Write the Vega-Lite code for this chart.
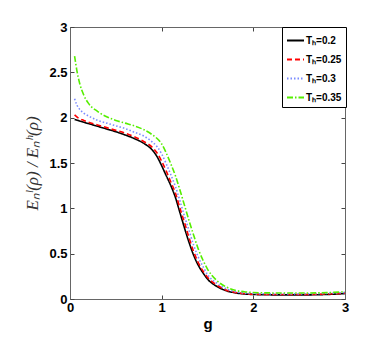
{
  "$schema": "https://vega.github.io/schema/vega-lite/v6.json",
  "width": 275,
  "height": 272,
  "autosize": "none",
  "padding": {"left": 70, "top": 27, "right": 37, "bottom": 38},
  "background": "white",
  "config": {
    "view": {"stroke": "#666", "strokeWidth": 1},
    "axis": {
      "labelFont": "Liberation Sans",
      "labelFontWeight": "bold",
      "labelFontSize": 13,
      "labelColor": "black",
      "tickColor": "#444",
      "domainColor": "#666",
      "grid": false
    },
    "legend": {
      "orient": "none", "legendX": 212, "legendY": 0, "title": null,
      "symbolType": "stroke", "symbolStrokeWidth": 2,
      "labelFont": "Liberation Sans", "labelFontWeight": "bold", "labelFontSize": 10, "labelColor": "black",
      "labelAlign": "left", "labelOffset": 1, "rowPadding": 4, "padding": 4,
      "strokeColor": "#000", "fillColor": "white"
    }
  },
  "data": {
    "values": [
      {"s": "Tₕ=0.2", "g": 0.05, "v": 1.98},
      {"s": "Tₕ=0.2", "g": 0.1, "v": 1.965},
      {"s": "Tₕ=0.2", "g": 0.15, "v": 1.95},
      {"s": "Tₕ=0.2", "g": 0.2, "v": 1.935},
      {"s": "Tₕ=0.2", "g": 0.3, "v": 1.905},
      {"s": "Tₕ=0.2", "g": 0.4, "v": 1.875},
      {"s": "Tₕ=0.2", "g": 0.5, "v": 1.845},
      {"s": "Tₕ=0.2", "g": 0.6, "v": 1.81},
      {"s": "Tₕ=0.2", "g": 0.7, "v": 1.77},
      {"s": "Tₕ=0.2", "g": 0.8, "v": 1.72},
      {"s": "Tₕ=0.2", "g": 0.9, "v": 1.64},
      {"s": "Tₕ=0.2", "g": 0.95, "v": 1.57},
      {"s": "Tₕ=0.2", "g": 1.0, "v": 1.47},
      {"s": "Tₕ=0.2", "g": 1.05, "v": 1.36},
      {"s": "Tₕ=0.2", "g": 1.1, "v": 1.25},
      {"s": "Tₕ=0.2", "g": 1.15, "v": 1.12},
      {"s": "Tₕ=0.2", "g": 1.2, "v": 0.95},
      {"s": "Tₕ=0.2", "g": 1.25, "v": 0.78},
      {"s": "Tₕ=0.2", "g": 1.3, "v": 0.62},
      {"s": "Tₕ=0.2", "g": 1.35, "v": 0.48},
      {"s": "Tₕ=0.2", "g": 1.4, "v": 0.37},
      {"s": "Tₕ=0.2", "g": 1.45, "v": 0.29},
      {"s": "Tₕ=0.2", "g": 1.5, "v": 0.22},
      {"s": "Tₕ=0.2", "g": 1.6, "v": 0.14},
      {"s": "Tₕ=0.2", "g": 1.7, "v": 0.093},
      {"s": "Tₕ=0.2", "g": 1.8, "v": 0.068},
      {"s": "Tₕ=0.2", "g": 1.9, "v": 0.056},
      {"s": "Tₕ=0.2", "g": 2.0, "v": 0.05},
      {"s": "Tₕ=0.2", "g": 2.2, "v": 0.046},
      {"s": "Tₕ=0.2", "g": 2.5, "v": 0.045},
      {"s": "Tₕ=0.2", "g": 2.8, "v": 0.05},
      {"s": "Tₕ=0.2", "g": 3.0, "v": 0.06},

      {"s": "Tₕ=0.25", "g": 0.05, "v": 2.03},
      {"s": "Tₕ=0.25", "g": 0.1, "v": 1.99},
      {"s": "Tₕ=0.25", "g": 0.15, "v": 1.97},
      {"s": "Tₕ=0.25", "g": 0.2, "v": 1.95},
      {"s": "Tₕ=0.25", "g": 0.3, "v": 1.92},
      {"s": "Tₕ=0.25", "g": 0.4, "v": 1.89},
      {"s": "Tₕ=0.25", "g": 0.5, "v": 1.86},
      {"s": "Tₕ=0.25", "g": 0.6, "v": 1.83},
      {"s": "Tₕ=0.25", "g": 0.7, "v": 1.79},
      {"s": "Tₕ=0.25", "g": 0.8, "v": 1.74},
      {"s": "Tₕ=0.25", "g": 0.9, "v": 1.67},
      {"s": "Tₕ=0.25", "g": 0.95, "v": 1.61},
      {"s": "Tₕ=0.25", "g": 1.0, "v": 1.52},
      {"s": "Tₕ=0.25", "g": 1.05, "v": 1.41},
      {"s": "Tₕ=0.25", "g": 1.1, "v": 1.29},
      {"s": "Tₕ=0.25", "g": 1.15, "v": 1.17},
      {"s": "Tₕ=0.25", "g": 1.2, "v": 1.0},
      {"s": "Tₕ=0.25", "g": 1.25, "v": 0.84},
      {"s": "Tₕ=0.25", "g": 1.3, "v": 0.67},
      {"s": "Tₕ=0.25", "g": 1.35, "v": 0.52},
      {"s": "Tₕ=0.25", "g": 1.4, "v": 0.4},
      {"s": "Tₕ=0.25", "g": 1.45, "v": 0.31},
      {"s": "Tₕ=0.25", "g": 1.5, "v": 0.24},
      {"s": "Tₕ=0.25", "g": 1.6, "v": 0.155},
      {"s": "Tₕ=0.25", "g": 1.7, "v": 0.1},
      {"s": "Tₕ=0.25", "g": 1.8, "v": 0.073},
      {"s": "Tₕ=0.25", "g": 1.9, "v": 0.06},
      {"s": "Tₕ=0.25", "g": 2.0, "v": 0.053},
      {"s": "Tₕ=0.25", "g": 2.2, "v": 0.05},
      {"s": "Tₕ=0.25", "g": 2.5, "v": 0.05},
      {"s": "Tₕ=0.25", "g": 2.8, "v": 0.055},
      {"s": "Tₕ=0.25", "g": 3.0, "v": 0.065},

      {"s": "Tₕ=0.3", "g": 0.05, "v": 2.21},
      {"s": "Tₕ=0.3", "g": 0.075, "v": 2.14},
      {"s": "Tₕ=0.3", "g": 0.1, "v": 2.1},
      {"s": "Tₕ=0.3", "g": 0.15, "v": 2.05},
      {"s": "Tₕ=0.3", "g": 0.2, "v": 2.02},
      {"s": "Tₕ=0.3", "g": 0.3, "v": 1.97},
      {"s": "Tₕ=0.3", "g": 0.4, "v": 1.94},
      {"s": "Tₕ=0.3", "g": 0.5, "v": 1.91},
      {"s": "Tₕ=0.3", "g": 0.6, "v": 1.88},
      {"s": "Tₕ=0.3", "g": 0.7, "v": 1.84},
      {"s": "Tₕ=0.3", "g": 0.8, "v": 1.8},
      {"s": "Tₕ=0.3", "g": 0.9, "v": 1.73},
      {"s": "Tₕ=0.3", "g": 0.95, "v": 1.68},
      {"s": "Tₕ=0.3", "g": 1.0, "v": 1.6},
      {"s": "Tₕ=0.3", "g": 1.05, "v": 1.49},
      {"s": "Tₕ=0.3", "g": 1.1, "v": 1.37},
      {"s": "Tₕ=0.3", "g": 1.15, "v": 1.24},
      {"s": "Tₕ=0.3", "g": 1.2, "v": 1.08},
      {"s": "Tₕ=0.3", "g": 1.25, "v": 0.91},
      {"s": "Tₕ=0.3", "g": 1.3, "v": 0.75},
      {"s": "Tₕ=0.3", "g": 1.35, "v": 0.59},
      {"s": "Tₕ=0.3", "g": 1.4, "v": 0.46},
      {"s": "Tₕ=0.3", "g": 1.45, "v": 0.36},
      {"s": "Tₕ=0.3", "g": 1.5, "v": 0.27},
      {"s": "Tₕ=0.3", "g": 1.6, "v": 0.175},
      {"s": "Tₕ=0.3", "g": 1.7, "v": 0.115},
      {"s": "Tₕ=0.3", "g": 1.8, "v": 0.082},
      {"s": "Tₕ=0.3", "g": 1.9, "v": 0.066},
      {"s": "Tₕ=0.3", "g": 2.0, "v": 0.06},
      {"s": "Tₕ=0.3", "g": 2.2, "v": 0.057},
      {"s": "Tₕ=0.3", "g": 2.5, "v": 0.057},
      {"s": "Tₕ=0.3", "g": 2.8, "v": 0.062},
      {"s": "Tₕ=0.3", "g": 3.0, "v": 0.072},

      {"s": "Tₕ=0.35", "g": 0.05, "v": 2.68},
      {"s": "Tₕ=0.35", "g": 0.075, "v": 2.52},
      {"s": "Tₕ=0.35", "g": 0.1, "v": 2.4},
      {"s": "Tₕ=0.35", "g": 0.15, "v": 2.25},
      {"s": "Tₕ=0.35", "g": 0.2, "v": 2.16},
      {"s": "Tₕ=0.35", "g": 0.3, "v": 2.07},
      {"s": "Tₕ=0.35", "g": 0.4, "v": 2.01},
      {"s": "Tₕ=0.35", "g": 0.5, "v": 1.97},
      {"s": "Tₕ=0.35", "g": 0.6, "v": 1.94},
      {"s": "Tₕ=0.35", "g": 0.7, "v": 1.91},
      {"s": "Tₕ=0.35", "g": 0.8, "v": 1.87},
      {"s": "Tₕ=0.35", "g": 0.9, "v": 1.81},
      {"s": "Tₕ=0.35", "g": 0.95, "v": 1.77},
      {"s": "Tₕ=0.35", "g": 1.0, "v": 1.71},
      {"s": "Tₕ=0.35", "g": 1.05, "v": 1.61},
      {"s": "Tₕ=0.35", "g": 1.1, "v": 1.49},
      {"s": "Tₕ=0.35", "g": 1.15, "v": 1.36},
      {"s": "Tₕ=0.35", "g": 1.2, "v": 1.2},
      {"s": "Tₕ=0.35", "g": 1.25, "v": 1.03},
      {"s": "Tₕ=0.35", "g": 1.3, "v": 0.86},
      {"s": "Tₕ=0.35", "g": 1.35, "v": 0.7},
      {"s": "Tₕ=0.35", "g": 1.4, "v": 0.55},
      {"s": "Tₕ=0.35", "g": 1.45, "v": 0.43},
      {"s": "Tₕ=0.35", "g": 1.5, "v": 0.33},
      {"s": "Tₕ=0.35", "g": 1.6, "v": 0.205},
      {"s": "Tₕ=0.35", "g": 1.7, "v": 0.135},
      {"s": "Tₕ=0.35", "g": 1.8, "v": 0.097},
      {"s": "Tₕ=0.35", "g": 1.9, "v": 0.08},
      {"s": "Tₕ=0.35", "g": 2.0, "v": 0.072},
      {"s": "Tₕ=0.35", "g": 2.2, "v": 0.067},
      {"s": "Tₕ=0.35", "g": 2.5, "v": 0.066},
      {"s": "Tₕ=0.35", "g": 2.8, "v": 0.07},
      {"s": "Tₕ=0.35", "g": 3.0, "v": 0.08}
    ]
  },
  "layer": [
    {
      "mark": {"type": "line", "interpolate": "monotone", "strokeWidth": 1.6, "clip": true},
      "encoding": {
        "x": {
          "field": "g", "type": "quantitative",
          "scale": {"domain": [0, 3], "nice": false, "zero": false},
          "axis": {
            "values": [0, 1, 2, 3], "tickSize": -4, "labelPadding": 6, "labelExpr": "'' + datum.value",
            "title": "g", "titleFont": "Liberation Sans", "titleFontWeight": "bold", "titleFontSize": 15, "titlePadding": 2,
            "labelFlush": false
          }
        },
        "y": {
          "field": "v", "type": "quantitative",
          "scale": {"domain": [0, 3], "nice": false, "zero": false},
          "axis": {
            "values": [0, 0.5, 1, 1.5, 2, 2.5, 3], "tickSize": -4, "labelPadding": 7, "labelExpr": "'' + datum.value",
            "title": "Eₙˡ(ρ) / Eₙʰ(ρ)", "titleFont": "Liberation Serif", "titleFontStyle": "italic", "titleFontWeight": "normal",
            "titleFontSize": 17, "titleColor": "#333", "titlePadding": 7, "labelFlush": false
          }
        },
        "color": {
          "field": "s", "type": "nominal",
          "scale": {"domain": ["Tₕ=0.2", "Tₕ=0.25", "Tₕ=0.3", "Tₕ=0.35"], "range": ["#000000", "#ff0000", "#7b8cff", "#55ee00"]},
          "legend": {"symbolSize": 289}
        },
        "strokeDash": {
          "field": "s", "type": "nominal",
          "scale": {"domain": ["Tₕ=0.2", "Tₕ=0.25", "Tₕ=0.3", "Tₕ=0.35"], "range": [[1, 0], [5, 3], [1.5, 2], [6, 2, 1.5, 2]]},
          "legend": {"symbolSize": 289}
        }
      }
    },
    {
      "mark": {"type": "point", "opacity": 0},
      "encoding": {
        "x": {"field": "g", "type": "quantitative", "axis": {"orient": "top", "values": [0, 1, 2, 3], "tickSize": -4, "labels": false, "title": null}},
        "y": {"field": "v", "type": "quantitative", "axis": {"orient": "right", "values": [0, 0.5, 1, 1.5, 2, 2.5, 3], "tickSize": -4, "labels": false, "title": null}}
      }
    }
  ],
  "resolve": {"axis": {"x": "independent", "y": "independent"}}
}
